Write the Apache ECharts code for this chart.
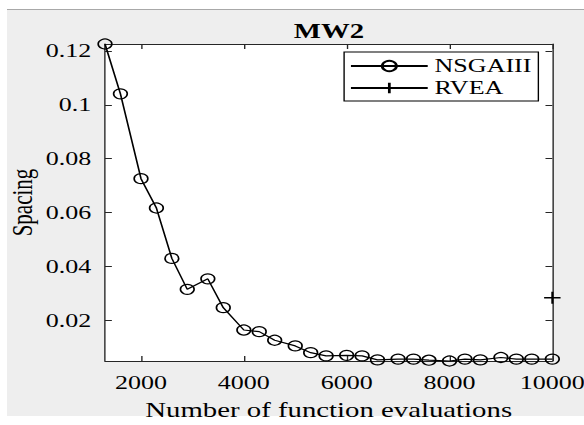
<!DOCTYPE html>
<html>
<head>
<meta charset="utf-8">
<script src="https://cdn.jsdelivr.net/npm/echarts@6/dist/echarts.min.js"></script>
<style>
  html, body { margin:0; padding:0; background:#ffffff; overflow:hidden; }
  #fig { position:absolute; left:7px; top:9px; width:577px; height:406px; background:#eeeeee; border-top:1px solid #a8a8a8; }
  #c { position:absolute; left:0; top:0; width:426px; height:425px; transform:scaleX(1.3709); transform-origin:0 0; }
</style>
</head>
<body>
<div id="fig"></div>
<div id="c"></div>
<script>
// Data
const evaluations = [1300, 1600, 2000, 2300, 2600, 2900, 3300, 3600, 4000, 4300, 4600, 5000, 5300, 5600,
  6000, 6300, 6600, 7000, 7300, 7600, 8000, 8300, 8600, 9000, 9300, 9600, 10000];
const nsgaiiiSpacing = [0.1226, 0.1041, 0.0726, 0.0617, 0.0430, 0.0315, 0.0354, 0.0247, 0.0164, 0.0158,
  0.0126, 0.0105, 0.0080, 0.0068, 0.0070, 0.0068, 0.0053, 0.0056, 0.0056, 0.0052, 0.0049, 0.0056,
  0.0053, 0.0062, 0.0056, 0.0056, 0.0056];
const rveaEvaluations = [10000];
const rveaSpacing = [0.0284];
const xTickValues = [2000, 4000, 6000, 8000, 10000];
const yTickValues = [0.02, 0.04, 0.06, 0.08, 0.1, 0.12];
const seriesNames = ['NSGAIII', 'RVEA'];
const titleText = 'MW2';
const xName = 'Number of function evaluations';
const yName = 'Spacing';

const serif = 'Liberation Serif, Times New Roman, serif';
const axisColor = '#262626';
const xMin = 1300, xMax = 10000, yMin = 0.0049, yMax = 0.1226;

function xAxisBase(pos, showLabels) {
  return {
    type: 'value', position: pos, min: xMin, max: xMax,
    axisLine: { show: true, onZero: false, lineStyle: { color: axisColor, width: 1 } },
    axisTick: { show: true, inside: true, length: 5, customValues: xTickValues, lineStyle: { color: axisColor, width: 1 } },
    axisLabel: { show: showLabels, customValues: xTickValues, margin: 12, color: '#000', fontFamily: serif, fontSize: 19,
      formatter: v => String(v) },
    splitLine: { show: false }
  };
}
function yAxisBase(pos, showLabels) {
  return {
    type: 'value', position: pos, min: yMin, max: yMax,
    axisLine: { show: true, onZero: false, lineStyle: { color: axisColor, width: 1 } },
    axisTick: { show: true, inside: true, length: 5, customValues: yTickValues, lineStyle: { color: axisColor, width: 1 } },
    axisLabel: { show: showLabels, customValues: yTickValues, margin: 10, color: '#000', fontFamily: serif, fontSize: 19,
      formatter: v => String(v) },
    splitLine: { show: false }
  };
}

const xBottom = Object.assign(xAxisBase('bottom', true), {
  name: xName, nameLocation: 'middle', nameGap: 38, nameMoveOverlap: false,
  nameTextStyle: { color: '#000', fontFamily: serif, fontSize: 21 }
});
const xTop = xAxisBase('top', false);
const yLeft = Object.assign(yAxisBase('left', true), {
  name: yName, nameLocation: 'middle', nameGap: 50, nameMoveOverlap: false,
  nameTextStyle: { color: '#000', fontFamily: serif, fontSize: 21 }
});
const yRight = yAxisBase('right', false);

const chart = echarts.init(document.getElementById('c'), null, { renderer: 'svg' });
chart.setOption({
  animation: false,
  backgroundColor: 'transparent',
  title: {
    text: titleText, left: 235, top: 15, textAlign: 'center',
    textStyle: { fontFamily: serif, fontWeight: 'bold', fontSize: 21, color: '#000' }
  },
  grid: { left: 76.6, top: 44, width: 326.3, height: 317, show: true, backgroundColor: '#ffffff', borderWidth: 0,
    containLabel: false, outerBoundsMode: 'none' },
  xAxis: [xBottom, xTop],
  yAxis: [yLeft, yRight],
  legend: {
    data: seriesNames, orient: 'vertical', left: 251, top: 52,
    backgroundColor: '#ffffff', borderColor: '#000', borderWidth: 1, borderRadius: 0,
    padding: [4, 5, 3, 4], itemGap: 2, itemWidth: 56, itemHeight: 13,
    textStyle: { color: '#000', fontFamily: serif, fontSize: 19, lineHeight: 20 }
  },
  series: [
    {
      name: seriesNames[0], type: 'line', xAxisIndex: 0, yAxisIndex: 0,
      data: evaluations.map((x, i) => [x, nsgaiiiSpacing[i]]),
      symbol: 'circle', symbolSize: 10, showAllSymbol: true, clip: false,
      lineStyle: { color: '#000', width: 1.2 },
      itemStyle: { color: 'transparent', borderColor: '#000', borderWidth: 1.2 },
      emphasis: { disabled: true }
    },
    {
      name: seriesNames[1], type: 'line', xAxisIndex: 0, yAxisIndex: 0,
      data: rveaEvaluations.map((x, i) => [x, rveaSpacing[i]]),
      symbol: 'path://M5,0L5,10M0,5L10,5', symbolSize: 12, showAllSymbol: true, clip: false,
      lineStyle: { color: '#000', width: 1.2 },
      itemStyle: { color: 'none', borderColor: '#000', borderWidth: 1.5 },
      emphasis: { disabled: true }
    }
  ]
});
</script>
</body>
</html>
